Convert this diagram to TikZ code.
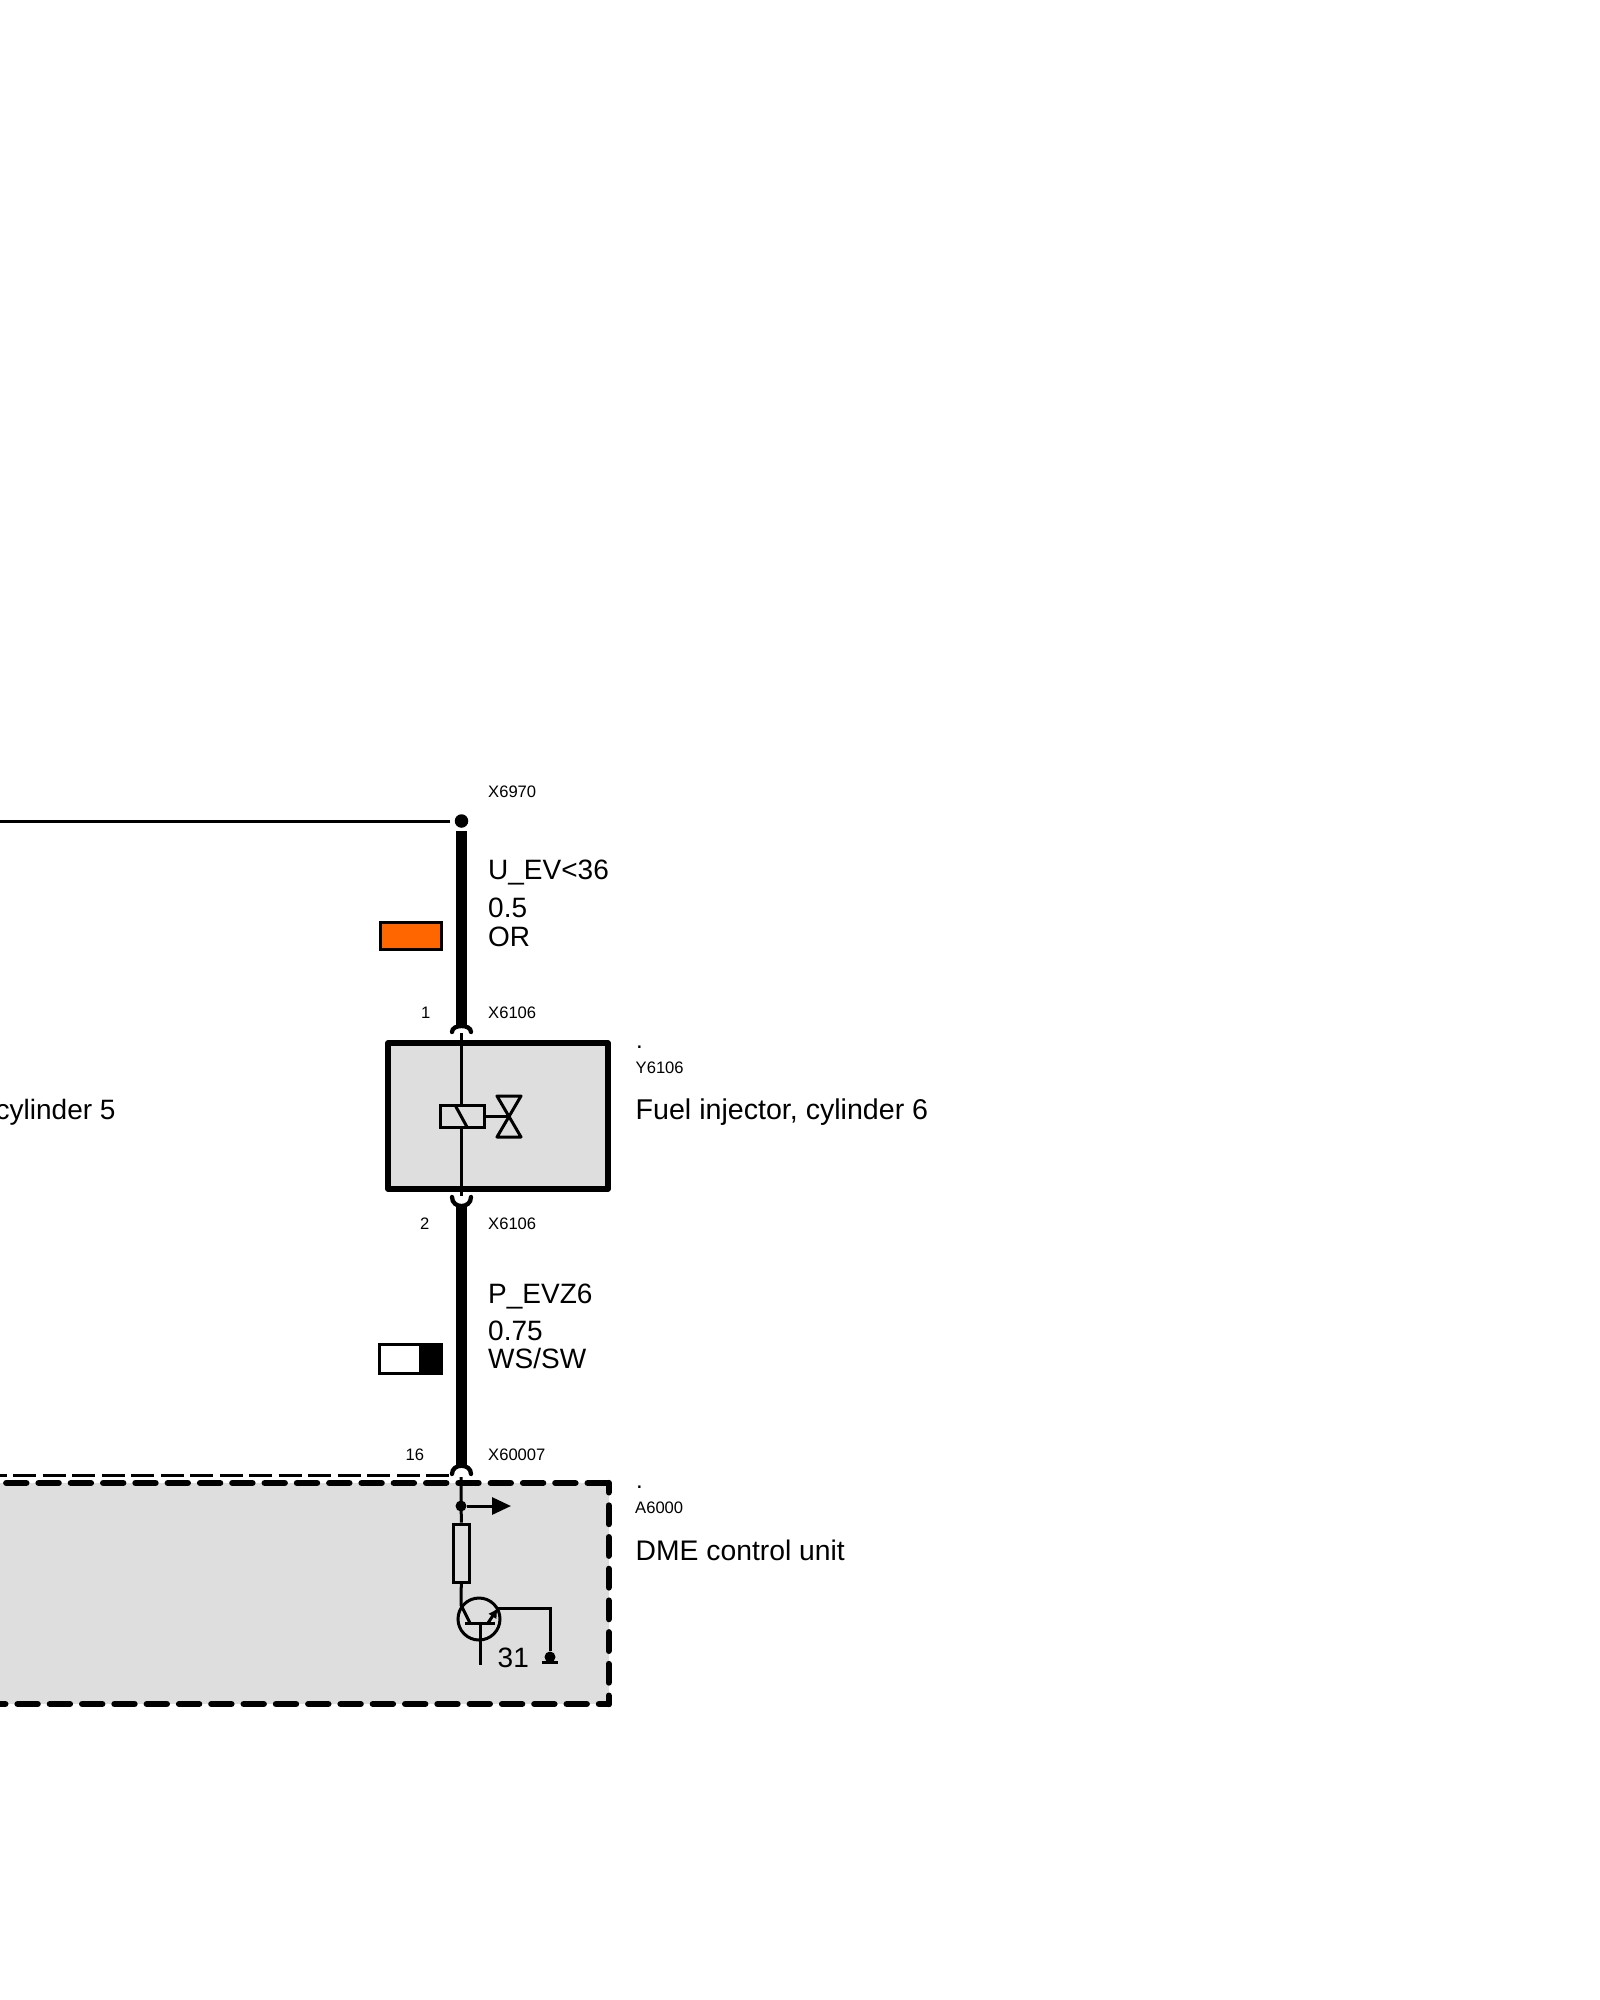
\documentclass[tikz,border=0pt]{standalone}
\usepackage{fontspec}
\setmainfont{Liberation Sans}
\usepackage{tikz}
\usetikzlibrary{arrows.meta}

\begin{document}
\begin{tikzpicture}[x=1pt, y=-1pt,
    big_label/.style={anchor=base west, inner sep=0pt, font=\fontsize{28}{28}\selectfont},
    wide_label/.style={anchor=base west, inner sep=0pt, font=\fontsize{28.6}{28.6}\selectfont},
    small_label/.style={anchor=base west, inner sep=0pt, font=\fontsize{16.6}{16.6}\selectfont},
    point_label/.style={anchor=base west, inner sep=0pt, font=\fontsize{24}{24}\selectfont},
    thin_wire/.style={draw, line width=3pt},
    thick_wire/.style={draw, line width=10.5pt},
    plug_line/.style={draw, line width=4.3pt, line cap=round},
    dash_side/.style={draw, line width=6.4pt, line cap=round},
    dot_node/.style={circle, fill, inner sep=0pt, minimum size=#1},
    wire_box/.style={rectangle, draw, line width=3pt, inner sep=0pt}]

    \useasboundingbox (0,0) rectangle (1600,2000);

    % boxes
    \fill[fill=black!13] (0,1483) rectangle (608.7,1704);
    \node[rectangle, draw, fill=black!13, line width=5.5pt, line join=round, inner sep=0pt,
          minimum width=220pt, minimum height=146pt] (y6106) at (498,1116) {};

    \coordinate (box_tl) at (0,1483);
    \coordinate (box_tr) at (608.7,1483);
    \coordinate (box_br) at (608.7,1704);
    \coordinate (box_bl) at (0,1704);
    \draw[dash_side, dash pattern=on 20pt off 12.3pt, dash phase=26pt] (box_tl) -- (box_tr);
    \draw[dash_side, dash pattern=on 18.5pt off 13.2pt, dash phase=9.2pt] (box_tr) -- (box_br);
    \draw[dash_side, dash pattern=on 20pt off 12.3pt, dash phase=10.3pt] (box_br) -- (box_bl);

    % feed line and wires
    \node[dot_node=13.5pt] (x6970) at (461.5,821) {};
    \coordinate (feed_start) at (0,821);
    \coordinate (feed_end) at (450,821);
    \draw[thin_wire] (feed_start) -- (feed_end);

    \coordinate (wire1_top) at (461.5,831);
    \coordinate (wire1_bot) at (461.5,1027);
    \draw[thick_wire] (wire1_top) -- (wire1_bot);

    \coordinate (wire2_top) at (461.5,1206);
    \coordinate (wire2_bot) at (461.5,1466);
    \draw[thick_wire] (wire2_top) -- (wire2_bot);

    \coordinate (dash_start) at (0,1475);
    \coordinate (dash_end) at (452,1475);
    \draw[thin_wire, dash pattern=on 23pt off 6.5pt, dash phase=16.2pt] (dash_start) -- (dash_end);

    % plugs
    \coordinate (plug1_l) at (452,1032);
    \coordinate (plug1_r) at (471,1032);
    \coordinate (plug2_l) at (452,1197);
    \coordinate (plug2_r) at (471,1197);
    \coordinate (plug3_l) at (452,1474);
    \coordinate (plug3_r) at (471,1474);
    \draw[plug_line] (plug1_l) .. controls +(0,-8) and +(0,-8) .. (plug1_r);
    \draw[plug_line] (plug2_l) .. controls +(0,12) and +(0,12) .. (plug2_r);
    \draw[plug_line] (plug3_l) .. controls +(0,-11) and +(0,-11) .. (plug3_r);

    % injector
    \coordinate (pin1) at (461.5,1033);
    \coordinate (pin2) at (461.5,1196);
    \draw[thin_wire] (pin1) -- (pin2);
    \node[wire_box, fill=black!13, minimum width=44pt, minimum height=22pt] (coil) at (462,1116) {};
    \coordinate (coil_a) at (455,1105);
    \coordinate (coil_b) at (467,1127);
    \draw[thin_wire] (coil_a) -- (coil_b);
    \coordinate (valve) at (509,1116);
    \coordinate (valve_tl) at (497,1096);
    \coordinate (valve_tr) at (521,1096);
    \coordinate (valve_bl) at (497,1137);
    \coordinate (valve_br) at (521,1137);
    \draw[thin_wire] (coil.east) -- (valve);
    \draw[thin_wire, line join=round] (valve_tl) -- (valve_br) -- (valve_bl) -- (valve_tr) -- cycle;

    % control unit
    \coordinate (pin3) at (461,1477);
    \node[dot_node=11pt] (split) at (461,1506) {};
    \coordinate (arrow_tip) at (511,1506);
    \node[wire_box, minimum width=15.5pt, minimum height=58pt] (resistor) at (461.3,1553) {};
    \draw[thin_wire] (pin3) -- (resistor.north);
    \draw[thin_wire, -{Triangle[length=19pt,width=17pt]}] (split) -- (arrow_tip);

    \node[circle, draw, line width=3pt, inner sep=0pt, minimum size=42pt] (transistor) at (479,1619) {};
    \coordinate (col_a) at (461,1605);
    \coordinate (col_b) at (470,1623);
    \coordinate (bar_l) at (465,1623);
    \coordinate (bar_r) at (495,1623);
    \coordinate (base_top) at (480.3,1623);
    \coordinate (base_end) at (480.3,1665);
    \coordinate (emit_a) at (488,1623);
    \coordinate (emit_b) at (498,1608);
    \coordinate (emit_c) at (550,1608);
    \node[dot_node=11pt] (ground) at (550,1657) {};
    \coordinate (gnd_l) at (542,1662);
    \coordinate (gnd_r) at (558,1662);
    \draw[thin_wire] (resistor.south) -- (col_a) -- (col_b);
    \draw[thin_wire] (bar_l) -- (bar_r);
    \draw[thin_wire] (base_top) -- (base_end);
    \draw[thin_wire, -{Latex[length=10pt,width=10pt]}] (emit_a) -- (emit_b);
    \draw[thin_wire] (emit_b) -- (emit_c) -- (ground);
    \draw[thin_wire] (gnd_l) -- (gnd_r);

    % cable colours
    \node[wire_box, fill={rgb,255:red,255;green,102;blue,0}, minimum width=61pt, minimum height=27pt] (orange_tag) at (410.6,935.5) {};
    \node[wire_box, fill=white, minimum width=62pt, minimum height=28.5pt] (ws_sw_tag) at (410.4,1358.8) {};
    \coordinate (black_a) at (419.3,1343.3);
    \coordinate (black_b) at (442.7,1374.3);
    \fill (black_a) rectangle (black_b);

    % texts
    \node[small_label] (l1) at (488,797) {X6970};
    \node[big_label] (l2) at (488,879) {U\_EV<36};
    \node[big_label] (l3) at (488,917) {0.5};
    \node[big_label] (l4) at (488,946) {OR};
    \node[small_label] (l5) at (421,1018) {1};
    \node[small_label] (l6) at (488,1018) {X6106};
    \node[point_label] (l7) at (636,1048) {.};
    \node[small_label] (l8) at (635.5,1073) {Y6106};
    \node[wide_label] (l9) at (635.5,1119) {Fuel injector, cylinder 6};
    \node[big_label] (l10) at (-4.5,1119) {cylinder 5};
    \node[small_label] (l11) at (420,1229) {2};
    \node[small_label] (l12) at (488,1229) {X6106};
    \node[big_label] (l13) at (488,1303) {P\_EVZ6};
    \node[big_label] (l14) at (488,1340) {0.75};
    \node[big_label] (l15) at (488,1368) {WS/SW};
    \node[small_label] (l16) at (405.5,1460) {16};
    \node[small_label] (l17) at (488,1460) {X60007};
    \node[point_label] (l18) at (636,1488) {.};
    \node[small_label] (l19) at (635,1513) {A6000};
    \node[big_label, font=\fontsize{28.3}{28.3}\selectfont] (l20) at (635.5,1560) {DME control unit};
    \node[big_label] (l21) at (497.5,1667) {31};
\end{tikzpicture}
\end{document}
